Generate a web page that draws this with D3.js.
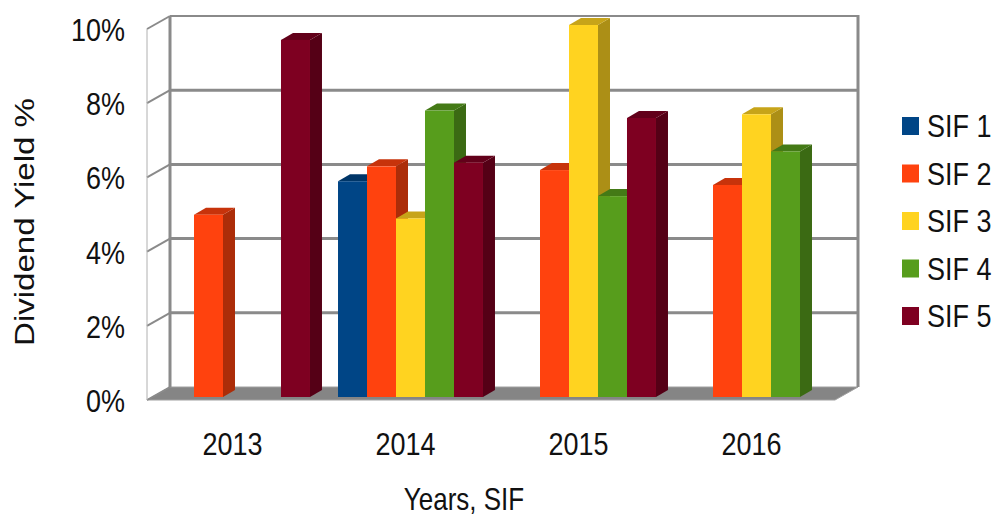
<!DOCTYPE html>
<html>
<head>
<meta charset="utf-8">
<script src="https://cdn.jsdelivr.net/npm/d3@7"></script>
<style>
  body { margin: 0; background: #fff; }
  text { font-family: "Liberation Sans", Arial, sans-serif; fill: #111; }
</style>
</head>
<body>
<svg id="chart" width="996" height="515"></svg>
<script>
// data (dividend yield, %)
const years = ['2013', '2014', '2015', '2016'];
const series = ['SIF 1', 'SIF 2', 'SIF 3', 'SIF 4', 'SIF 5'];
const colors = ['#004586', '#ff420e', '#ffd320', '#579d1c', '#7e0021'];
const sif1 = [null, 5.8, null, null];
const sif2 = [4.9, 6.2, 6.1, 5.7];
const sif3 = [null, 4.8, 10.0, 7.6];
const sif4 = [null, 7.7, 5.4, 6.6];
const sif5 = [9.6, 6.3, 7.5, null];
const yTicks = [0, 2, 4, 6, 8, 10];

const values = [sif1, sif2, sif3, sif4, sif5];
const svg = d3.select('#chart');
const stretch = 1.18;   // the reference text is a bit taller than wide

// 3d box: back wall and the depth offset to the front edge
const back = { x0: 170, x1: 858 };
const depth = { dx: -23, dy: 13 };
const yBack = d3.scaleLinear().domain([0, 10]).range([387, 16]);
const yBar = d3.scaleLinear().domain([0, 10]).range([397, 25]);
const x0 = d3.scaleBand().domain(years).range([151, 843]).paddingInner(0.162).paddingOuter(0.081);
const x1 = d3.scaleBand().domain(series).range([0, x0.bandwidth()]);
const bar = { dx: 12, dy: 7 };
const grid = '#8a8a8a';

// back wall
svg.append('rect')
   .attr('x', back.x0).attr('y', yBack(10))
   .attr('width', back.x1 - back.x0).attr('height', yBack(0) - yBack(10))
   .attr('fill', '#fff');

// floor
const floor = [[back.x0, yBack(0)], [back.x1, yBack(0)],
               [back.x1 + depth.dx, yBack(0) + depth.dy], [back.x0 + depth.dx, yBack(0) + depth.dy]];
svg.append('polygon')
   .attr('points', floor.map(p => p.join(',')).join(' '))
   .attr('fill', '#858585')
   .attr('stroke', '#a0a0a0').attr('stroke-width', 1);

// gridlines on back wall and side wall
yTicks.forEach(function(t) {
   if (t > 0) {
      svg.append('line')
         .attr('x1', back.x0).attr('x2', back.x1)
         .attr('y1', yBack(t)).attr('y2', yBack(t))
         .attr('stroke', grid).attr('stroke-width', t == 10 ? 2 : 3);
   }
   svg.append('line')
      .attr('x1', back.x0).attr('x2', back.x0 + depth.dx)
      .attr('y1', yBack(t)).attr('y2', yBack(t) + depth.dy)
      .attr('stroke', grid).attr('stroke-width', 2);
});

// wall edges
svg.append('line')
   .attr('x1', back.x0).attr('x2', back.x0)
   .attr('y1', yBack(10)).attr('y2', yBack(0))
   .attr('stroke', grid).attr('stroke-width', 3);
svg.append('line')
   .attr('x1', back.x1).attr('x2', back.x1)
   .attr('y1', yBack(10) - 1).attr('y2', yBack(0))
   .attr('stroke', grid).attr('stroke-width', 3);
svg.append('line')
   .attr('x1', back.x0 + depth.dx).attr('x2', back.x0 + depth.dx)
   .attr('y1', yBack(10) + depth.dy).attr('y2', yBack(0) + depth.dy)
   .attr('stroke', '#b0b0b0').attr('stroke-width', 1);

// bars, drawn left to right so each front face hides the previous side face
years.forEach(function(year, i) {
   series.forEach(function(s, j) {
      const v = values[j][i];
      if (v == null) return;
      const c = d3.color(colors[j]);
      const x = x0(year) + x1(s);
      const w = x1.bandwidth();
      const yt = yBar(v), yb = yBar(0);
      const g = svg.append('g');
      g.append('polygon')
         .attr('points', [[x + w, yt], [x + w + bar.dx, yt - bar.dy], [x + w + bar.dx, yb - bar.dy], [x + w, yb]].map(p => p.join(',')).join(' '))
         .attr('fill', c.darker(1.1));
      g.append('polygon')
         .attr('points', [[x, yt], [x + bar.dx, yt - bar.dy], [x + w + bar.dx, yt - bar.dy], [x + w, yt]].map(p => p.join(',')).join(' '))
         .attr('fill', c.darker(0.7));
      g.append('rect')
         .attr('x', x).attr('y', yt)
         .attr('width', w).attr('height', yb - yt)
         .attr('fill', c);
   });
});

function label(txt, x, y, size, anchor, extra) {
   return svg.append('text')
      .attr('transform', `translate(${x},${y}) scale(1,${stretch})` + (extra || ''))
      .attr('text-anchor', anchor)
      .style('font-size', size + 'px')
      .text(txt);
}

// y tick labels at the front edge of the side wall
yTicks.forEach(function(t) {
   label(t + '%', 125, yBack(t) + depth.dy + 12, 27, 'end');
});

// year labels
years.forEach(function(year) {
   label(year, x0(year) + x0.bandwidth() / 2 - 5, 455, 27, 'middle');
});

label('Years, SIF', 464, 510, 26, 'middle');
label('Dividend Yield %', 34, 222, 28, 'middle', ' rotate(-90)');

// legend
series.forEach(function(s, j) {
   const y = 117 + j * 47.5;
   svg.append('rect')
      .attr('x', 902).attr('y', y)
      .attr('width', 17).attr('height', 18)
      .attr('fill', colors[j]);
   label(s, 927, y + 20, 27, 'start');
});
</script>
</body>
</html>
